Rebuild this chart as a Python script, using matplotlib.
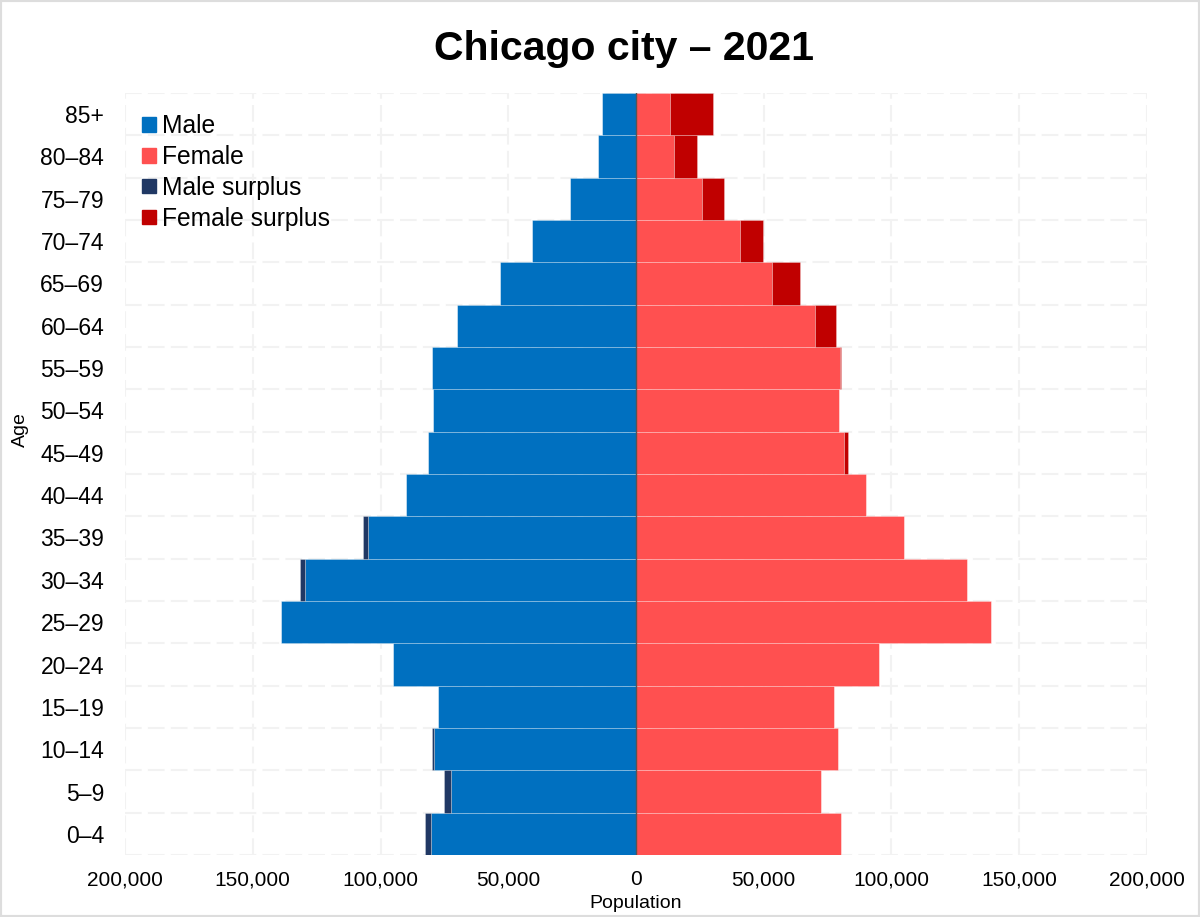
import matplotlib.pyplot as plt
import numpy as np
from matplotlib.patches import Patch, Rectangle

plt.rcParams['font.family'] = ['Liberation Sans', 'DejaVu Sans']

ages = ['0–4', '5–9', '10–14', '15–19', '20–24', '25–29', '30–34', '35–39',
        '40–44', '45–49', '50–54', '55–59', '60–64', '65–69', '70–74',
        '75–79', '80–84', '85+']
male = [82600, 75100, 79700, 77600, 95200, 139100, 131600, 106800, 90100,
        81500, 79600, 79800, 69900, 53100, 40600, 25900, 14800, 13200]
female = [80400, 72600, 79200, 77600, 95100, 139100, 129700, 104900, 89900,
          83100, 79600, 80200, 78100, 64100, 49800, 34300, 24000, 30000]
ticks = [-200000, -150000, -100000, -50000, 0, 50000, 100000, 150000, 200000]

c_male = '#0070c0'
c_female = '#ff5050'
c_msur = '#203864'
c_fsur = '#c00000'

m = np.array(male)
f = np.array(female)
common = np.minimum(m, f)
msur = np.clip(m - f, 0, None)
fsur = np.clip(f - m, 0, None)
y = np.arange(len(ages))

fig = plt.figure(figsize=(12, 9.17), dpi=100)
ax = fig.add_axes([0.1042, 0.0676, 0.8516, 0.831])

edge = dict(edgecolor=(1, 1, 1, 0.3), linewidth=0.6)
ax.barh(y, -common, height=1.0, color=c_male, zorder=2, **edge)
ax.barh(y, -msur, left=-common, height=1.0, color=c_msur, zorder=2, **edge)
ax.barh(y, common, height=1.0, color=c_female, zorder=2, **edge)
ax.barh(y, fsur, left=common, height=1.0, color=c_fsur, zorder=2, **edge)
ax.axvline(0, color='#555555', lw=1.0, zorder=3)

# dashed grid at bar boundaries and every 50,000
for b in np.arange(-0.5, len(ages), 1.0):
    ax.axhline(b, color='#f2f2f2', lw=1.5, ls=(0, (8, 3)), zorder=0)
for t in ticks:
    ax.axvline(t, color='#f2f2f2', lw=1.5, ls=(0, (8, 3)), zorder=0)

ax.set_xlim(-200000, 200000)
ax.set_ylim(-0.5, len(ages) - 0.5)
ax.set_xticks(ticks)
ax.set_xticklabels([f'{abs(t):,}' for t in ticks], fontsize=15)
ax.set_yticks(y)
ax.set_yticklabels(ages, fontsize=16.5)
ax.tick_params(axis='x', length=0, pad=11)
ax.tick_params(axis='y', length=0, pad=15)
for s in ax.spines.values():
    s.set_visible(False)

ax.set_xlabel('Population', fontsize=14)
ax.xaxis.set_label_coords(0.5, -0.053)
ax.set_ylabel('Age', fontsize=14)
ax.yaxis.set_label_coords(-0.094, 0.558)
fig.suptitle('Chicago city – 2021', fontsize=29.5, fontweight='bold',
             x=0.52, y=0.967)

handles = [Patch(color=c_male, label='Male'),
           Patch(color=c_female, label='Female'),
           Patch(color=c_msur, label='Male surplus'),
           Patch(color=c_fsur, label='Female surplus')]
ax.legend(handles=handles, loc='upper left', bbox_to_anchor=(0.0, 0.995),
          frameon=False, fontsize=17.7, handlelength=0.55, handleheight=0.55,
          handletextpad=0.25, labelspacing=0.28, borderaxespad=0.3)

fig.patches.append(Rectangle((0, 0), 1, 1, transform=fig.transFigure,
                             fill=False, edgecolor='#dddddd', lw=3))

plt.savefig('out.png')
